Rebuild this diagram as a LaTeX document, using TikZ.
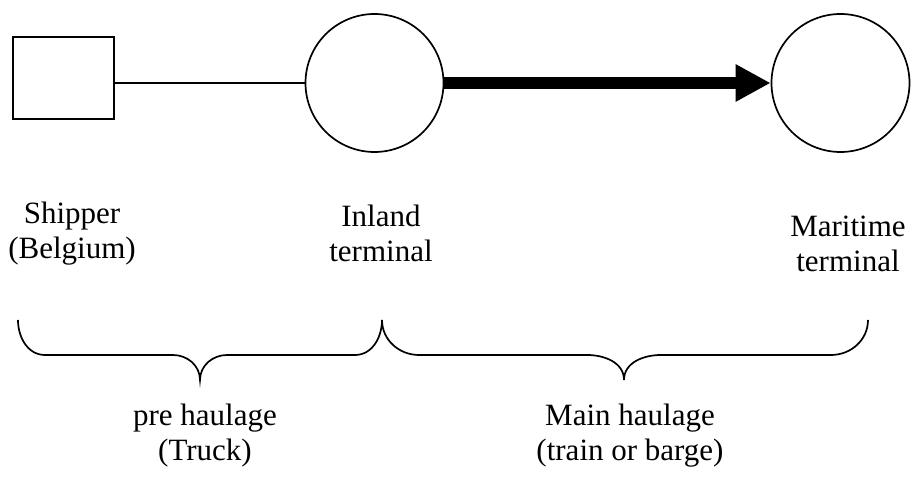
\documentclass[tikz,border=0pt]{standalone}
\usepackage{fontspec}
\setmainfont{Liberation Serif}
\usetikzlibrary{arrows.meta}
\tikzset{
  shipbox/.style = {draw, line width=1.7pt, minimum width=101pt, minimum height=82pt, inner sep=0pt},
  terminal/.style = {draw, circle, line width=1.7pt, minimum size=138pt, inner sep=0pt},
  lbl/.style = {align=center, inner sep=0pt, font=\fontsize{31}{35}\selectfont},
  thin/.style = {line width=1.7pt},
  mainleg/.style = {line width=12pt, -{Triangle[length=35pt,width=35pt]}},
}
% curly brace: left end, right end, tip, size of the curls
\newcommand{\legbrace}[4]{%
  \draw[thin] (#1,159) to[out=-90,in=180] (#1+#4,124) -- (#3-#4,124)
    to[out=0,in=90] (#3,99) to[out=90,in=180] (#3+#4,124) -- (#2-#4,124)
    to[out=0,in=-90] (#2,159);
}

\begin{document}
\begin{tikzpicture}[x=1pt,y=1pt]
\useasboundingbox (0,0) rectangle (914,479);

\node[shipbox] (shipper) at (63.5,401) {};
\node[terminal] (inland) at (374.5,396) {};
\node[terminal] (maritime) at (840.5,396) {};

\draw[thin] (inland.west -| shipper.east) -- (inland.west);
\draw[mainleg] (inland.east) -- (maritime.west);

\node[lbl] (shipperlbl) at (72,245) {Shipper\\(Belgium)};
\node[lbl] (inlandlbl) at (381,246) {Inland\\terminal};
\node[lbl] (maritimelbl) at (848,235) {Maritime\\terminal};

\legbrace{18}{382}{200}{27}
\legbrace{382}{868}{624}{37}

\node[lbl] (prelbl) at (205,43) {pre haulage\\(Truck)};
\node[lbl] (mainlbl) at (630,43) {Main haulage\\(train or barge)};
\end{tikzpicture}
\end{document}
